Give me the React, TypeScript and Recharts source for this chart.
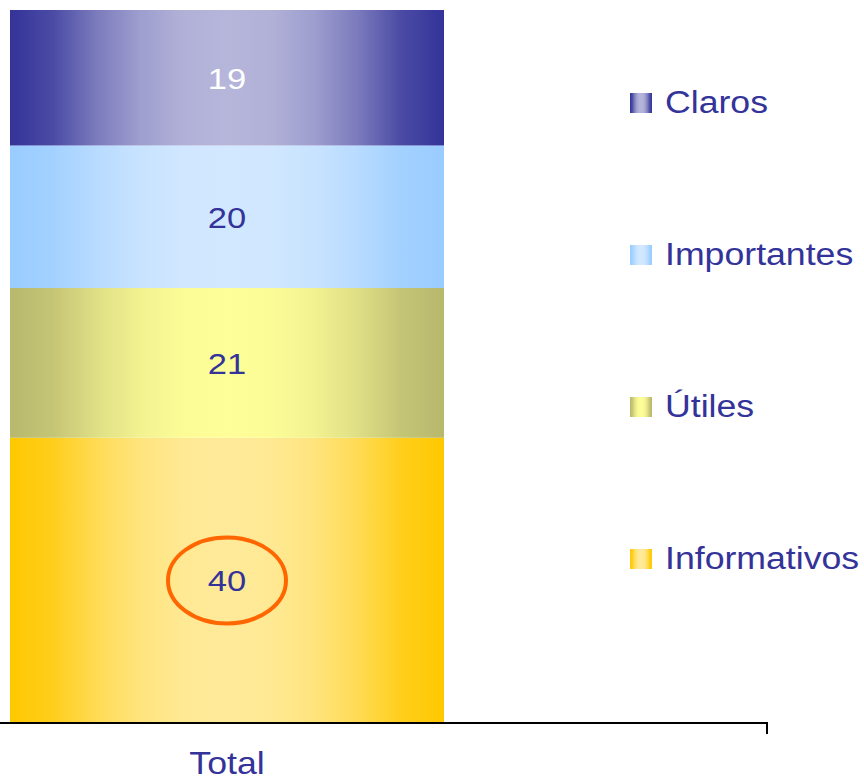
import { Bar, BarChart, LabelList, XAxis, YAxis } from 'recharts';

// one category, four stacked series (bottom to top)
const CATEGORIES = ['Total'];
const INFORMATIVOS = [40];
const UTILES = [21];
const IMPORTANTES = [20];
const CLAROS = [19];

const SERIES_NAMES = ['Informativos', 'Útiles', 'Importantes', 'Claros'];
const SERIES_VALUES = [INFORMATIVOS, UTILES, IMPORTANTES, CLAROS];
const Y_DOMAIN = [0, 100];

const EDGE_COLORS: Record<string, string> = {
  Informativos: '#FFC800',
  'Útiles': '#B8B86E',
  Importantes: '#99CCFF',
  Claros: '#333399',
};
const CENTER_COLORS: Record<string, string> = {
  Informativos: '#FFEA9A',
  'Útiles': '#FFFF99',
  Importantes: '#D2E8FF',
  Claros: '#B6B6DB',
};
const LABEL_COLORS: Record<string, string> = {
  Informativos: '#333399',
  'Útiles': '#333399',
  Importantes: '#333399',
  Claros: '#FFFFFF',
};

// edge -> centre blend profile of the cylinder-like fill (mirrored)
const GRAD_PROFILE: [number, number][] = [
  [0, 0],
  [0.1, 0.18],
  [0.2, 0.55],
  [0.3, 0.82],
  [0.4, 0.96],
  [0.5, 1],
];

const FONT = '"Liberation Sans", Arial, sans-serif';
const TEXT_COLOR = '#333399';
const STRETCH = 1.15; // the source text is a bit wider than Arial

const CHART_W = 1082;
const CHART_H = 778;
const CHART_LEFT = -314; // the original picture is cropped on the left
const HALF_BAND = CHART_W / 2;

const data = CATEGORIES.map((name, i) => {
  const row: Record<string, string | number> = { name };
  SERIES_NAMES.forEach((s, j) => {
    row[s] = SERIES_VALUES[j][i];
  });
  return row;
});

const gradId = (name: string) => `grad-${SERIES_NAMES.indexOf(name)}`;

const mix = (a: string, b: string, t: number) => {
  const pa = [1, 3, 5].map((k) => parseInt(a.slice(k, k + 2), 16));
  const pb = [1, 3, 5].map((k) => parseInt(b.slice(k, k + 2), 16));
  const c = pa.map((v, i) => Math.round(v + (pb[i] - v) * t));
  return `rgb(${c[0]},${c[1]},${c[2]})`;
};

const gradStops = (name: string) => {
  const mirrored = GRAD_PROFILE.slice(0, -1)
    .reverse()
    .map(([o, t]) => [1 - o, t] as [number, number]);
  return [...GRAD_PROFILE, ...mirrored].map(([o, t], i) => (
    <stop key={i} offset={`${o * 100}%`} stopColor={mix(EDGE_COLORS[name], CENTER_COLORS[name], t)} />
  ));
};

const WideText = ({ x, y, size, color, children }: any) => (
  <g transform={`translate(${x},${y}) scale(${STRETCH},1)`}>
    <text x={0} y={0} textAnchor="middle" fill={color} fontSize={size} fontFamily={FONT}>
      {children}
    </text>
  </g>
);

const AxisTick = (props: any) => {
  const { x, y, payload } = props;
  return (
    <g>
      <line x1={x + HALF_BAND - 1} x2={x + HALF_BAND - 1} y1={y} y2={y + 11} stroke="#000" strokeWidth={2} />
      <WideText x={x} y={y + 51} size={31} color={TEXT_COLOR}>
        {payload.value}
      </WideText>
    </g>
  );
};

const makeLabel = (name: string, circled: boolean) => (props: any) => {
  const { x, y, width, height, value } = props;
  const cx = x + width / 2;
  const cy = y + height / 2;
  return (
    <g>
      {circled && <ellipse cx={cx} cy={cy} rx={59} ry={43} fill="none" stroke="#FF6600" strokeWidth={4} />}
      <WideText x={cx} y={cy + 11} size={30} color={LABEL_COLORS[name]}>
        {value}
      </WideText>
    </g>
  );
};

const LegendBox = () => (
  <div style={{ position: 'absolute', left: 630, top: 27, width: 240, fontFamily: FONT }}>
    {[...SERIES_NAMES].reverse().map((name) => (
      <div key={name} style={{ height: 152, display: 'flex', alignItems: 'center' }}>
        <svg width={22} height={20} style={{ display: 'block', flex: 'none' }}>
          <rect x={0} y={0} width={22} height={20} fill={`url(#${gradId(name)})`} />
        </svg>
        <span
          style={{
            marginLeft: 13,
            fontSize: 31,
            color: TEXT_COLOR,
            whiteSpace: 'nowrap',
            display: 'inline-block',
            transform: `scaleX(${STRETCH})`,
            transformOrigin: 'left center',
          }}
        >
          {name}
        </span>
      </div>
    ))}
  </div>
);

export default function App() {
  return (
    <div style={{ position: 'absolute', left: 0, top: 0, width: 864, height: 778, overflow: 'hidden', background: '#fff' }}>
      <div style={{ position: 'absolute', left: CHART_LEFT, top: 0 }}>
        <BarChart width={CHART_W} height={CHART_H} data={data} margin={{ top: 10, right: 0, bottom: 0, left: 0 }}>
          <defs>
            {SERIES_NAMES.map((name) => (
              <linearGradient key={name} id={gradId(name)} x1="0" y1="0" x2="1" y2="0">
                {gradStops(name)}
              </linearGradient>
            ))}
          </defs>
          <YAxis hide domain={Y_DOMAIN} />
          <XAxis
            dataKey="name"
            height={55}
            tickLine={false}
            tickSize={0}
            tickMargin={0}
            axisLine={{ stroke: '#000', strokeWidth: 2 }}
            tick={<AxisTick />}
            interval={0}
          />
          {SERIES_NAMES.map((name) => (
            <Bar
              key={name}
              dataKey={name}
              stackId="a"
              barSize={434}
              fill={`url(#${gradId(name)})`}
              isAnimationActive={false}
            >
              <LabelList dataKey={name} content={makeLabel(name, name === 'Informativos')} />
            </Bar>
          ))}
        </BarChart>
      </div>
      <LegendBox />
    </div>
  );
}
